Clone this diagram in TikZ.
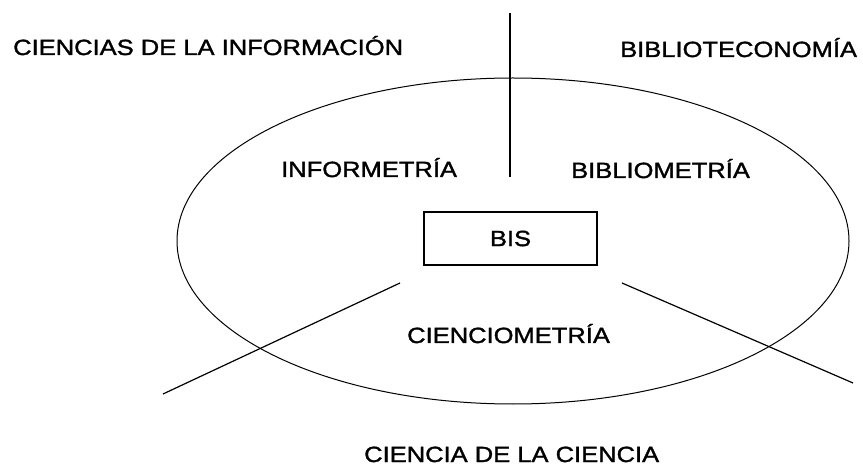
\documentclass[tikz,border=0pt]{standalone}
\usepackage{fontspec}
\setmainfont{Liberation Sans}[FakeStretch=1.16, FakeBold=1.5]
\usepackage{tikz}
\tikzset{
    area/.style={inner sep=0pt, anchor=base west, font=\fontsize{22}{26}\selectfont},
    cut/.style={line width=1.2pt}}

\begin{document}
\begin{tikzpicture}[x=1pt, y=-1pt]

                    \useasboundingbox (0,0) rectangle (863,473);

                    \draw[line width=1pt] (513,241) ellipse [x radius=336, y radius=163];

                    \node[area] (ci) at (13,55) {CIENCIAS DE LA INFORMACIÓN};
                    \node[area] (bt) at (620,57) {BIBLIOTECONOMÍA};
                    \node[area] (im) at (281,177) {INFORMETRÍA};
                    \node[area] (bm) at (571,178) {BIBLIOMETRÍA};
                    \node[area] (cm) at (407,343) {CIENCIOMETRÍA};
                    \node[area] (cc) at (364,462) {CIENCIA DE LA CIENCIA};
                    \node[shape=rectangle, draw=black, line width=1.4pt, minimum width=173pt, minimum height=53pt, font=\fontsize{22}{26}\selectfont] (bis) at (510.5,238.5) {BIS};

                    \coordinate (t1) at (510,13);
                    \coordinate (t2) at (510,177);
                    \coordinate (l1) at (400,283);
                    \coordinate (l2) at (163,394);
                    \coordinate (r1) at (622,283);
                    \coordinate (r2) at (853,383);

                    \draw[cut] (t1) -- (t2);
                    \draw[cut] (l1) -- (l2);
                    \draw[cut] (r1) -- (r2);

                \end{tikzpicture}
\end{document}
